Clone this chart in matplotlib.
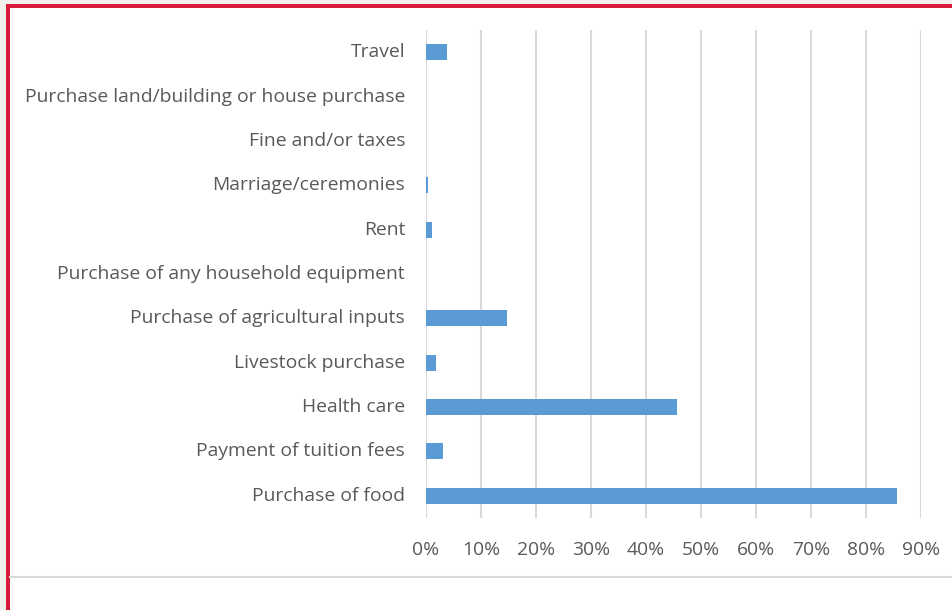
import matplotlib
matplotlib.use("Agg")
import matplotlib.pyplot as plt
from matplotlib.patches import Rectangle
from matplotlib.lines import Line2D
from matplotlib.ticker import FuncFormatter

categories = [
    "Purchase of food",
    "Payment of tuition fees",
    "Health care",
    "Livestock purchase",
    "Purchase of agricultural inputs",
    "Purchase of any household equipment",
    "Rent",
    "Marriage/ceremonies",
    "Fine and/or taxes",
    "Purchase land/building or house purchase",
    "Travel",
]
values = [85.6, 3.0, 45.6, 1.9, 14.8, 0.0, 1.1, 0.3, 0.0, 0.0, 3.9]
xticks = [0, 10, 20, 30, 40, 50, 60, 70, 80, 90]

plt.rcParams['font.family'] = ['Open Sans', 'DejaVu Sans']

W, H = 952, 610
fig = plt.figure(figsize=(W / 100, H / 100), dpi=100, facecolor="white")

ax = fig.add_axes([426 / W, 1 - 518 / H, (921 - 426) / W, (518 - 30) / H])
ypos = list(range(len(categories)))
ax.barh(ypos, values, height=0.36, color="#5b9bd5", zorder=3)
ax.set_xlim(0, 90)
ax.set_ylim(-0.5, len(categories) - 0.5)
ax.set_yticks(ypos)
ax.set_yticklabels(categories)
for lbl in ax.get_yticklabels():
    lbl.set_verticalalignment("center")
ax.set_xticks(xticks)
ax.xaxis.set_major_formatter(FuncFormatter(lambda v, p: f"{int(round(v))}%"))
ax.tick_params(axis="both", length=0, labelsize=13.9, colors="#595959")
ax.tick_params(axis="y", pad=15)
ax.tick_params(axis="x", pad=16.5)
ax.grid(axis="x", color="#d9d9d9", linewidth=1.5, zorder=0)
for s in ax.spines.values():
    s.set_visible(False)
ax.axvline(0, color="#d9d9d9", linewidth=1.5, zorder=1)

# outer frame decoration
fig.patches.append(Rectangle((0, 1 - 4 / H), 1, 4 / H, transform=fig.transFigure,
                             facecolor="#f2f0ec", edgecolor="none", zorder=0))
fig.patches.append(Rectangle((0, 0), 6 / W, 1, transform=fig.transFigure,
                             facecolor="#f2f0ec", edgecolor="none", zorder=0))
fig.patches.append(Rectangle((6 / W, 1 - 8 / H), 1 - 6 / W, 4 / H, transform=fig.transFigure,
                             facecolor="#d7193a", edgecolor="none", zorder=1))
fig.patches.append(Rectangle((6 / W, 0), 4 / W, 1 - 4 / H, transform=fig.transFigure,
                             facecolor="#d7193a", edgecolor="none", zorder=1))
fig.lines.append(Line2D([10 / W, 1], [1 - 577 / H, 1 - 577 / H], transform=fig.transFigure,
                        color="#d9d9d9", linewidth=1.5))

fig.savefig("out.png", dpi=100, facecolor="white")
